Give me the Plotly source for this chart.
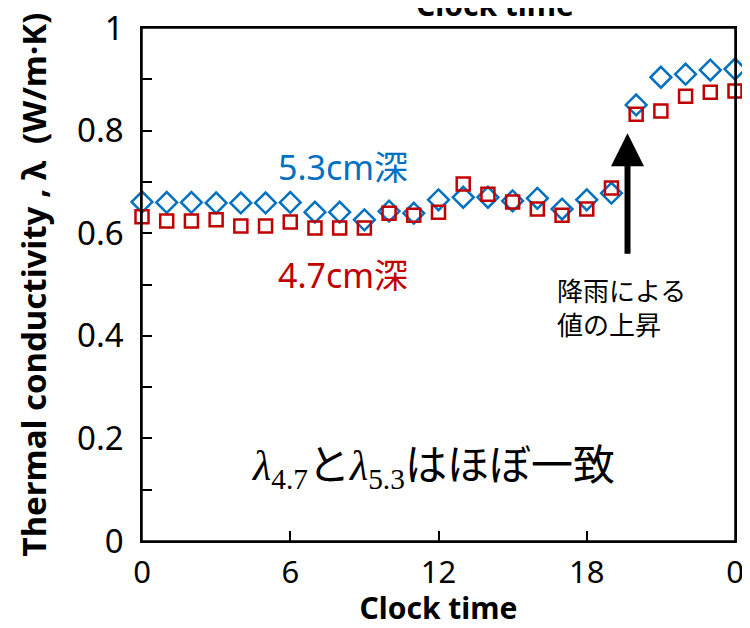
import plotly.graph_objects as go

hours = list(range(25))
lam_53 = [0.661, 0.660, 0.660, 0.659, 0.659, 0.659, 0.660, 0.641, 0.641, 0.626, 0.643, 0.639,
          0.665, 0.670, 0.670, 0.663, 0.668, 0.647, 0.665, 0.678, 0.850, 0.904, 0.910, 0.918, 0.920]
lam_47 = [0.632, 0.624, 0.624, 0.626, 0.614, 0.614, 0.622, 0.610, 0.610, 0.610, 0.639, 0.635,
          0.641, 0.696, 0.676, 0.661, 0.647, 0.635, 0.647, 0.688, 0.832, 0.838, 0.867, 0.875, 0.877]
x_ticks = [0, 6, 12, 18, 24]
x_tick_labels = ["0", "6", "12", "18", "0"]
y_ticks = [0, 0.2, 0.4, 0.6, 0.8, 1]
y_tick_labels = ["0", "0.2", "0.4", "0.6", "0.8", "1"]

BLUE = "#0070C0"
RED = "#C00000"
FONT = "Noto Sans, Noto Sans CJK JP, sans-serif"

fig = go.Figure()
fig.add_trace(go.Scatter(x=hours, y=lam_53, mode="markers", name="5.3cm深",
                         marker=dict(symbol="diamond-open", size=16, color=BLUE, line=dict(width=2.5, color=BLUE)),
                         cliponaxis=False))
fig.add_trace(go.Scatter(x=hours, y=lam_47, mode="markers", name="4.7cm深",
                         marker=dict(symbol="square-open", size=13, color=RED, line=dict(width=2.5, color=RED)),
                         cliponaxis=False))

fig.add_annotation(x=8.15, y=0.729, text="5.3cm深", showarrow=False,
                   font=dict(size=34, color=BLUE, family=FONT))
fig.add_annotation(x=8.15, y=0.519, text="4.7cm深", showarrow=False,
                   font=dict(size=34, color=RED, family=FONT))
fig.add_annotation(x=19.65, y=0.795, ax=19.65, ay=0.557, axref="x", ayref="y",
                   text="", showarrow=True, arrowhead=2, arrowsize=1.1, arrowwidth=6, arrowcolor="black")
fig.add_annotation(x=16.7, y=0.454, text="降雨による<br>値の上昇", showarrow=False,
                   align="left", xanchor="left", yanchor="middle",
                   font=dict(size=26, color="black", family=FONT))
fig.add_annotation(x=11.78, y=0.148, showarrow=False,
                   text=("<span style='font-family:Liberation Serif'><i>λ</i><sub>4.7</sub></span>と"
                         "<span style='font-family:Liberation Serif'><i>λ</i><sub>5.3</sub></span>はほぼ一致"),
                   font=dict(size=42, color="black", family=FONT))
fig.add_annotation(x=0.595, xref="paper", y=1.045, yref="paper", yanchor="middle",
                   text="<b>Clock time</b>",
                   showarrow=False, font=dict(size=30, color="black", family=FONT))

# plot frame
fig.add_shape(type="rect", xref="paper", yref="paper", x0=0, x1=1, y0=0, y1=1,
              line=dict(color="black", width=1.5), fillcolor="rgba(0,0,0,0)", layer="above")

fig.update_xaxes(range=[0, 24], tickvals=x_ticks, ticktext=x_tick_labels,
                 ticks="inside", ticklen=10, tickwidth=1.5, tickcolor="black",
                 showline=True, linecolor="black", linewidth=1.5, mirror=True,
                 showgrid=False, zeroline=False, automargin=False, ticklabelstandoff=3,
                 ticklabeloverflow="allow",
                 tickfont=dict(size=31, color="black", family=FONT),
                 title=dict(text="<b>Clock time</b>", font=dict(size=30, color="black", family=FONT), standoff=4))
fig.update_yaxes(range=[0, 1], tickvals=y_ticks, ticktext=y_tick_labels,
                 ticks="inside", ticklen=10, tickwidth=1.5, tickcolor="black",
                 minor=dict(dtick=0.1, ticks="inside", ticklen=10, tickwidth=1.5, tickcolor="black", showgrid=False),
                 showline=True, linecolor="black", linewidth=1.5, mirror=True,
                 showgrid=False, zeroline=False, automargin=False, ticklabelstandoff=10,
                 ticklabeloverflow="allow",
                 tickfont=dict(size=33, color="black", family=FONT),
                 title=dict(text="<b>Thermal conductivity , λ  (W/m·K)</b>",
                            font=dict(size=33, color="black", family=FONT), standoff=20))

# The page body has an 8px margin, so the figure is sized and margined to compensate.
fig.update_layout(width=742, height=620, margin=dict(l=134, r=15, t=20, b=87),
                  plot_bgcolor="white", paper_bgcolor="white", showlegend=False)

fig.write_html("out.html")
